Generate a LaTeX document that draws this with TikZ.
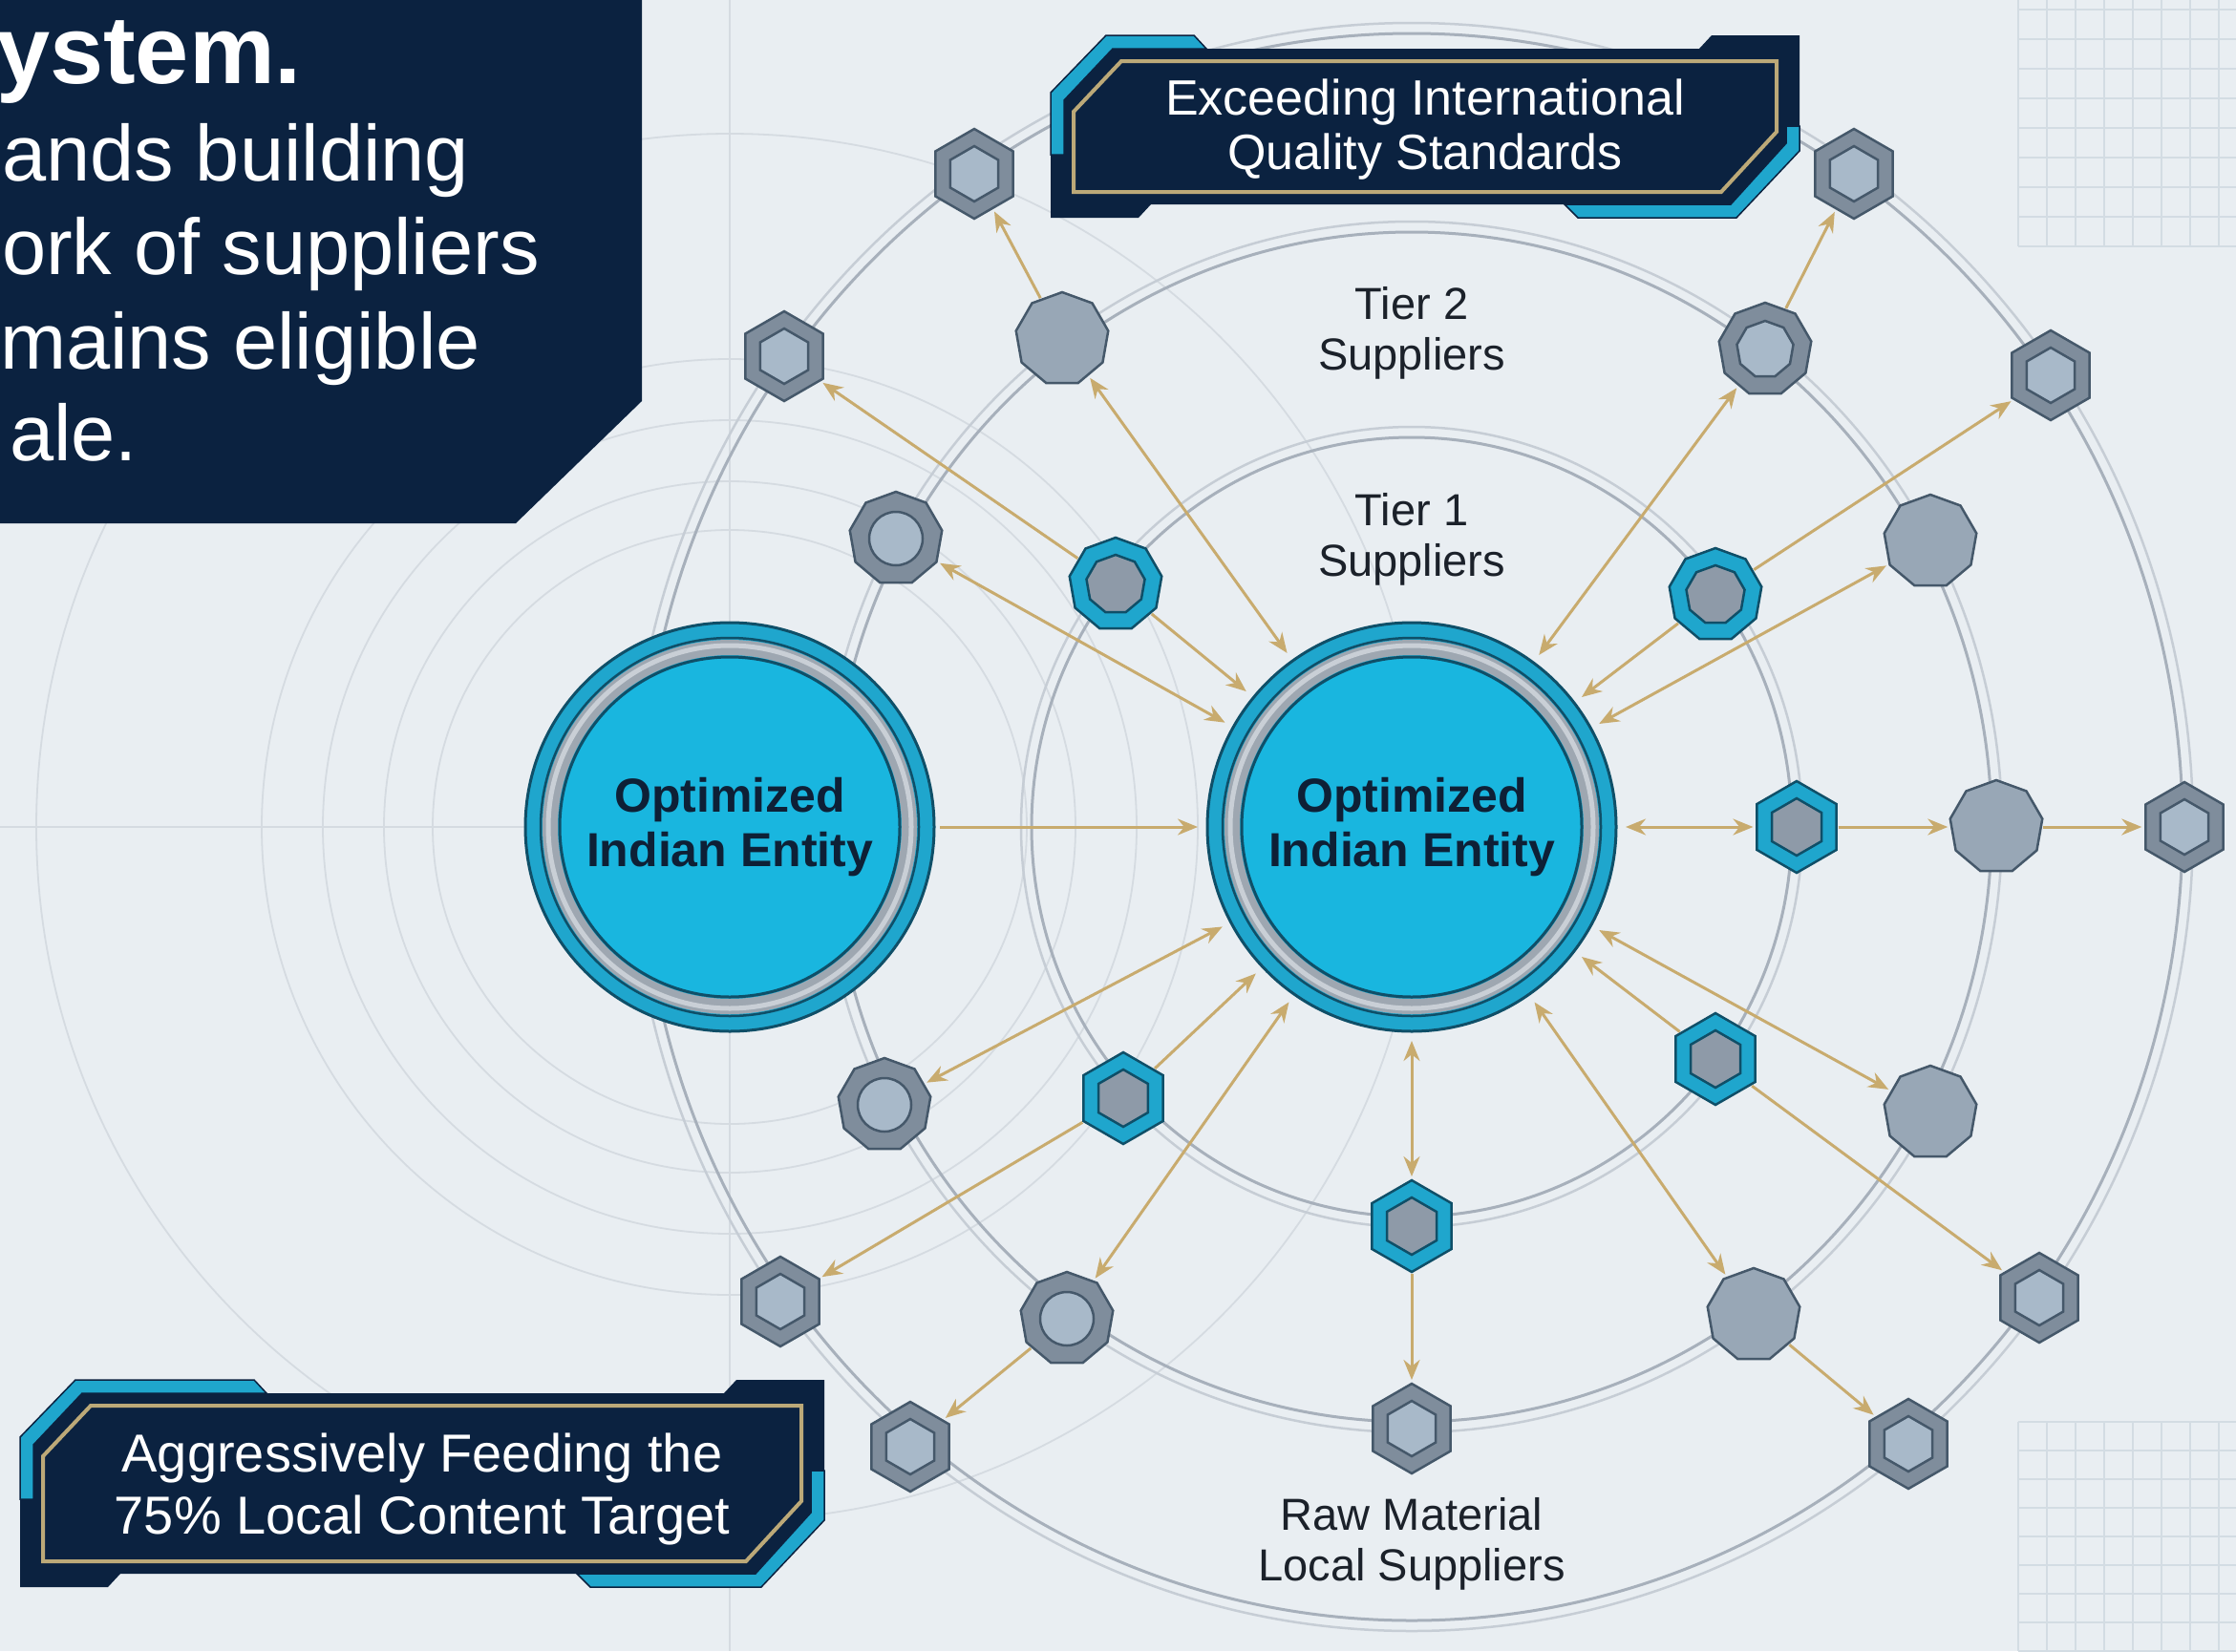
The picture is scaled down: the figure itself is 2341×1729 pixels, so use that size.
\documentclass[tikz,border=0pt]{standalone}
\usepackage{fontspec}
\setmainfont{Liberation Sans}
\usetikzlibrary{shapes.geometric,arrows.meta,calc}

\definecolor{bgc}{HTML}{E9EEF2}
\definecolor{navy}{HTML}{0B2240}
\definecolor{cyanband}{HTML}{1FA6CD}
\definecolor{cyancore}{HTML}{19B6DF}
\definecolor{tealline}{HTML}{0F4F68}
\definecolor{gold}{HTML}{C8AB6E}
\definecolor{ringc}{HTML}{A7B0BB}
\definecolor{ringl}{HTML}{C6CDD5}
\definecolor{faint}{HTML}{D5DBE1}
\definecolor{gridc}{HTML}{D3DCE3}
\definecolor{nodeline}{HTML}{45586A}
\definecolor{plaingray}{HTML}{98A7B6}
\definecolor{darkgray}{HTML}{7F8D9C}
\definecolor{lightgray}{HTML}{A8B9C9}
\definecolor{coregray}{HTML}{8E9AA8}
\definecolor{silver}{HTML}{9EA7B1}
\definecolor{silverhi}{HTML}{C9CFD6}
\definecolor{gilt}{HTML}{BCA978}
\definecolor{labelc}{HTML}{1B212A}
\definecolor{hubtext}{HTML}{0E2036}

\tikzset{
  every node/.append style={inner sep=0pt, outer sep=0pt},
  nona/.style={regular polygon, regular polygon sides=9, minimum size=98pt},
  hexa/.style={regular polygon, regular polygon sides=6, shape border rotate=30, minimum size=96pt},
  plainnode/.style={nona, fill=plaingray, draw=nodeline, line width=2.5pt},
  ringnode/.style={nona, fill=darkgray, draw=nodeline, line width=2.5pt},
  ringcore/.style={circle, minimum size=56pt, fill=lightgray, draw=nodeline, line width=2.5pt},
  nonacore/.style={nona, minimum size=60pt, fill=lightgray, draw=nodeline, line width=2.5pt},
  hexnode/.style={hexa, minimum size=94pt, fill=darkgray, draw=nodeline, line width=2.5pt},
  hexcore/.style={hexa, minimum size=58pt, fill=lightgray, draw=nodeline, line width=2.5pt},
  tiernona/.style={nona, fill=cyanband, draw=tealline, line width=2.5pt},
  tierhex/.style={hexa, fill=cyanband, draw=tealline, line width=2.5pt},
  tiernonacore/.style={nona, minimum size=62pt, fill=coregray, draw=tealline, line width=2.5pt},
  tierhexcore/.style={hexa, minimum size=60pt, fill=coregray, draw=tealline, line width=2.5pt},
  oneway/.style={draw=gold, line width=3pt, shorten >=4pt, shorten <=2pt,
    -{Stealth[length=21pt,width=17pt]}},
  twoway/.style={draw=gold, line width=3pt, shorten >=4pt, shorten <=2pt,
    {Stealth[length=21pt,width=17pt]}-{Stealth[length=21pt,width=17pt]}},
  tierlabel/.style={font=\fontsize{47}{53}\selectfont, text=labelc, align=center},
}

% chamfered banner: x0, y0, x1, y1 (y grows downwards),
% length of the cyan strip along the top (#5) and along the bottom (#6)
\newcommand\drawbanner[6]{%
  \fill[navy] (#1,{#2+60}) -- ({#1+58},#2) -- ({#1+#5},#2) -- ({#1+#5+13},{#2+14})
    -- ({#3-105},{#2+14}) -- ({#3-92},#2) -- (#3,#2) -- (#3,{#4-70}) -- ({#3-66},#4)
    -- ({#3-#6},#4) -- ({#3-#6-14},{#4-14}) -- ({#1+105},{#4-14}) -- ({#1+92},#4)
    -- (#1,#4) -- cycle;
  \filldraw[fill=cyanband, draw=navy, line width=1.5pt] (#1,{#2+125}) -- (#1,{#2+60})
    -- ({#1+58},#2) -- ({#1+#5},#2) -- ({#1+#5+13},{#2+14}) -- ({#1+65},{#2+14})
    -- ({#1+14},{#2+68}) -- ({#1+14},{#2+125}) -- cycle;
  \filldraw[fill=cyanband, draw=navy, line width=1.5pt] (#3,{#2+95}) -- (#3,{#4-70})
    -- ({#3-66},#4) -- ({#3-#6},#4) -- ({#3-#6-14},{#4-14}) -- ({#3-72},{#4-14})
    -- ({#3-14},{#4-78}) -- ({#3-14},{#2+95}) -- cycle;
  \draw[gilt, line width=4pt] ({#1+24},{#2+80}) -- ({#1+74},{#2+27}) -- ({#3-24},{#2+27})
    -- ({#3-24},{#4-90}) -- ({#3-82},{#4-27}) -- ({#1+24},{#4-27}) -- cycle;
}

% hub disc with cyan band, silver ring and cyan core
\newcommand\hubdisc[3]{%
  \node[circle, minimum size=428pt, fill=cyanband, draw=tealline, line width=3pt] (#1) at (#2) {};
  \draw[tealline, line width=2.5pt] (#1.center) circle[radius=198];
  \draw[silver, line width=16pt] (#1.center) circle[radius=188];
  \draw[silverhi, line width=5pt] (#1.center) circle[radius=190];
  \node[circle, minimum size=356pt, fill=cyancore, draw=tealline, line width=3pt,
    text=hubtext, font=\bfseries\fontsize{50}{57}\selectfont, align=center]
    (#1-core) at (#1) {#3};
}

\begin{document}
\begin{tikzpicture}[x=1pt, y=-1pt]
\useasboundingbox (0,0) rectangle (2341,1729);
\fill[bgc] (0,0) rectangle (2341,1729);

% grid patches on the right edge
\begin{scope}[draw=gridc, line width=2pt]
  \foreach \k in {0,...,7} \draw ({2113+30*\k},0) -- ({2113+30*\k},258);
  \foreach \k in {0,...,8} \draw (2113,{10+31*\k}) -- (2341,{10+31*\k});
  \foreach \k in {0,...,7} \draw ({2113+30*\k},1489) -- ({2113+30*\k},1729);
  \foreach \k in {0,...,8} \draw (2113,{1489+30*\k}) -- (2341,{1489+30*\k});
\end{scope}

% faint guide circles and cross lines around the left entity
\coordinate (lc) at (764,866);
\foreach \r in {311,362,426,490,726}
  \draw[faint, line width=1.8pt] (lc) circle[radius=\r];
\draw[faint, line width=2pt] (0,866) -- (lc);
\draw[faint, line width=2pt] (764,0) -- (764,1729);

% supplier tier rings (double lines)
\coordinate (hc) at (1478,866);
\foreach \rx/\ry in {403/413, 612/628, 812/836} {
  \draw[ringc, line width=3pt] (hc) ellipse[x radius=\rx-5, y radius=\ry-5];
  \draw[ringl, line width=2.5pt] (hc) ellipse[x radius=\rx+6, y radius=\ry+6];
}

% title panel, top left
\fill[navy] (0,0) -- (672,0) -- (672,420) -- (540,548) -- (0,548) -- cycle;
\node[anchor=base west, text=white, font=\fontsize{101}{101}\selectfont\bfseries] (headline) at (-4,87) {ystem.};
\begin{scope}[every node/.append style={anchor=base west, text=white, font=\fontsize{83}{83}\selectfont}]
  \node (line1) at (2,189) {ands building};
  \node (line2) at (2,287) {ork of suppliers};
  \node (line3) at (0,386) {mains eligible};
  \node (line4) at (10,482) {ale.};
\end{scope}

% banners
\drawbanner{1100}{37}{1884}{228}{150}{232}
\node[font=\fontsize{52}{57}\selectfont, text=white, align=center] (quality) at (1492,136)
  {Exceeding International\\Quality Standards};
\drawbanner{21}{1445}{863}{1662}{245}{245}
\node[font=\fontsize{56}{65}\selectfont, text=white, align=center] (localcontent) at (442,1559)
  {Aggressively Feeding the\\75\% Local Content Target};

% tier labels
\node[tierlabel] (tier2) at (1478,349) {Tier 2\\Suppliers};
\node[tierlabel] (tier1) at (1478,565) {Tier 1\\Suppliers};
\node[tierlabel] (rawmat) at (1478,1617) {Raw Material\\Local Suppliers};

% tier 1 suppliers
\node[tiernona] (t1a) at (1168,612) {};  \node[tiernonacore] (t1a-core) at (t1a) {};
\node[tiernona] (t1b) at (1796,623) {};  \node[tiernonacore] (t1b-core) at (t1b) {};
\node[tierhex] (t1c) at (1881,866) {};   \node[tierhexcore] (t1c-core) at (t1c) {};
\node[tierhex] (t1d) at (1796,1109) {};  \node[tierhexcore] (t1d-core) at (t1d) {};
\node[tierhex] (t1e) at (1478,1284) {};  \node[tierhexcore] (t1e-core) at (t1e) {};
\node[tierhex] (t1f) at (1176,1150) {};  \node[tierhexcore] (t1f-core) at (t1f) {};

% tier 2 suppliers
\node[plainnode] (t2a) at (1112,355) {};
\node[ringnode] (t2b) at (1848,366) {};  \node[nonacore] (t2b-core) at (t2b) {};
\node[plainnode] (t2c) at (2021,567) {};
\node[plainnode] (t2d) at (2090,866) {};
\node[plainnode] (t2e) at (2021,1165) {};
\node[plainnode] (t2f) at (1836,1377) {};
\node[hexnode] (t2g) at (1478,1496) {};  \node[hexcore] (t2g-core) at (t2g) {};
\node[ringnode] (t2h) at (1117,1381) {}; \node[ringcore] (t2h-core) at (t2h) {};
\node[ringnode] (t2i) at (926,1157) {};  \node[ringcore] (t2i-core) at (t2i) {};
\node[ringnode] (t2j) at (938,564) {};   \node[ringcore] (t2j-core) at (t2j) {};

% raw material suppliers (outer ring)
\foreach \n/\p in {oa/{1020,182}, ob/{1941,182}, oc/{821,373}, od/{2147,393},
                   oe/{2287,866}, of/{2135,1359}, og/{1998,1512}, oh/{953,1515}, oi/{817,1363}} {
  \node[hexnode] (\n) at (\p) {};
  \node[hexcore] (\n-core) at (\n) {};
}

% entity discs
\hubdisc{L}{764,866}{Optimized\\Indian Entity}
\hubdisc{M}{1478,866}{Optimized\\Indian Entity}

% flows
\draw[oneway, shorten >=10pt, shorten <=6pt] (L) -- (M);
\draw[twoway, shorten <=10pt] (M) -- (t1c);
\draw[oneway] (t1c) -- (t2d);
\draw[oneway] (t2d) -- (oe);
\draw[twoway, shorten <=10pt] (M) -- (t1e);
\draw[oneway] (t1e) -- (t2g);
% upper left
\draw[oneway, shorten >=10pt] (t1a) -- (M);
\draw[oneway] (t1a) -- (oc);
\draw[twoway, shorten <=10pt] (M) -- (t2a);
\draw[oneway] (t2a) -- (oa);
\draw[twoway, shorten <=10pt] (M) -- (t2j);
% upper right
\draw[oneway, shorten >=10pt] (t1b) -- (M);
\draw[oneway] (t1b) -- (od);
\draw[twoway, shorten <=10pt] (M) -- (t2b);
\draw[oneway] (t2b) -- (ob);
\draw[twoway, shorten <=10pt] (M) -- (t2c);
% lower right
\draw[oneway, shorten >=10pt] (t1d) -- (M);
\draw[oneway] (t1d) -- (of);
\draw[twoway, shorten <=10pt] (M) -- (t2e);
\draw[twoway, shorten <=10pt] (M) -- (t2f);
\draw[oneway] (t2f) -- (og);
% lower left
\draw[oneway, shorten >=10pt] (t1f) -- (M);
\draw[oneway] (t1f) -- (oi);
\draw[twoway, shorten <=10pt] (M) -- (t2i);
\draw[twoway, shorten <=10pt] (M) -- (t2h);
\draw[oneway] (t2h) -- (oh);
\end{tikzpicture}
\end{document}
